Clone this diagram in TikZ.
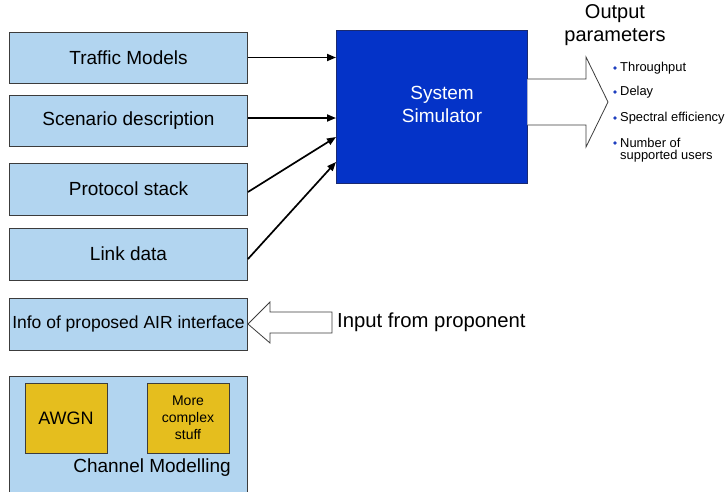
\documentclass[tikz,border=0pt]{standalone}
\usepackage{fontspec}
\setmainfont{Liberation Sans}
\usetikzlibrary{arrows.meta}
\definecolor{boxblue}{HTML}{B2D5F0}
\definecolor{simblue}{HTML}{0433C8}
\definecolor{simedge}{HTML}{1A2A70}
\definecolor{gold}{HTML}{E5BE1E}
\definecolor{edgegray}{HTML}{3C3C3C}
\definecolor{bulletblue}{HTML}{1F3FBF}
\tikzset{
  inbox/.style={draw=edgegray, fill=boxblue, line width=0.9pt, minimum width=238pt, inner sep=0pt, font=\fontsize{19}{22}\selectfont},
  goldbox/.style={draw=edgegray, fill=gold, line width=0.9pt, minimum width=82pt, minimum height=70pt, inner sep=0pt, align=center},
  feed/.style={line width=1.7pt, -{Triangle[length=9pt,width=7pt]}},
  hollow/.style={draw=edgegray, fill=white, line width=0.8pt, line join=miter},
  bul/.style={anchor=west, inner sep=0pt, font=\fontsize{12.9}{15}\selectfont},
  bdotstyle/.style={circle, fill=bulletblue, inner sep=0pt, minimum size=3.8pt},
}
\begin{document}
\begin{tikzpicture}[x=1pt,y=-1pt]
\useasboundingbox (0,0) rectangle (725,491);
% input boxes
\node[inbox, minimum height=51pt] (tm) at (128.5,57.5) {Traffic Models};
\node[inbox, minimum height=51pt] (sd) at (128.5,120.5) {Scenario description};
\node[inbox, minimum height=52pt] (ps) at (128.5,189) {Protocol stack};
\node[inbox, minimum height=52pt] (ld) at (128.5,254) {Link data};
\node[inbox, minimum height=52pt, font=\fontsize{17.5}{20}\selectfont] (info) at (128.5,324) {Info of proposed AIR interface};
% channel modelling
\node[inbox, minimum height=120pt] (ch) at (128.5,436) {};
\node[goldbox, font=\fontsize{18}{21}\selectfont] (awgn) at (66,418) {AWGN};
\node[goldbox, font=\fontsize{14}{17}\selectfont] (mcs) at (188,418) {More\\complex\\stuff};
\node[inner sep=0pt, font=\fontsize{19}{22}\selectfont] (chl) at (152,468) {Channel Modelling};
% simulator
\node[draw=simedge, fill=simblue, line width=0.9pt, minimum width=191pt, minimum height=153pt, inner sep=0pt] (sim) at (431.5,106.5) {};
\node[text=white, align=center, font=\fontsize{19}{23}\selectfont] (simt) at (442,104) {System\\Simulator};
% feeds
\coordinate (e1) at (336,57.5);
\coordinate (e2) at (336,118);
\coordinate (e3) at (336,137);
\coordinate (e4) at (336,162);
\draw[feed] (tm.east |- e1) -- (e1);
\draw[feed] (sd.east |- e2) -- (e2);
\draw[feed] ([yshift=-3pt]ps.east) -- (e3);
\draw[feed] ([yshift=-5pt]ld.east) -- (e4);
% output arrow
\draw[hollow] (sim.east |- 0,79) -- (586,79) -- (586,57) -- (608,102) -- (586,147) -- (586,125) -- (sim.east |- 0,125);
% output text
\node[align=center, inner sep=0pt, font=\fontsize{20}{23}\selectfont] (outt) at (615,25) {Output\\parameters};
\node[bul] (b1) at (620,68) {Throughput};
\node[bul] (b2) at (620,92) {Delay};
\node[bul] (b3) at (620,118) {Spectral efficiency};
\node[bul] (b4) at (620,143) {Number of};
\node[bul] (b5) at (620,156) {supported users};
\node[bdotstyle] (d1) at (615,68) {};
\node[bdotstyle] (d2) at (615,92) {};
\node[bdotstyle] (d3) at (615,118) {};
\node[bdotstyle] (d4) at (615,143) {};
% input arrow
\draw[hollow] (info.east) -- (270,302) -- (270,312) -- (332,312) -- (332,333) -- (270,333) -- (270,343) -- cycle;
\node[anchor=west, inner sep=0pt, font=\fontsize{20.3}{22}\selectfont] (inp) at (337,322) {Input from proponent};
\end{tikzpicture}
\end{document}
